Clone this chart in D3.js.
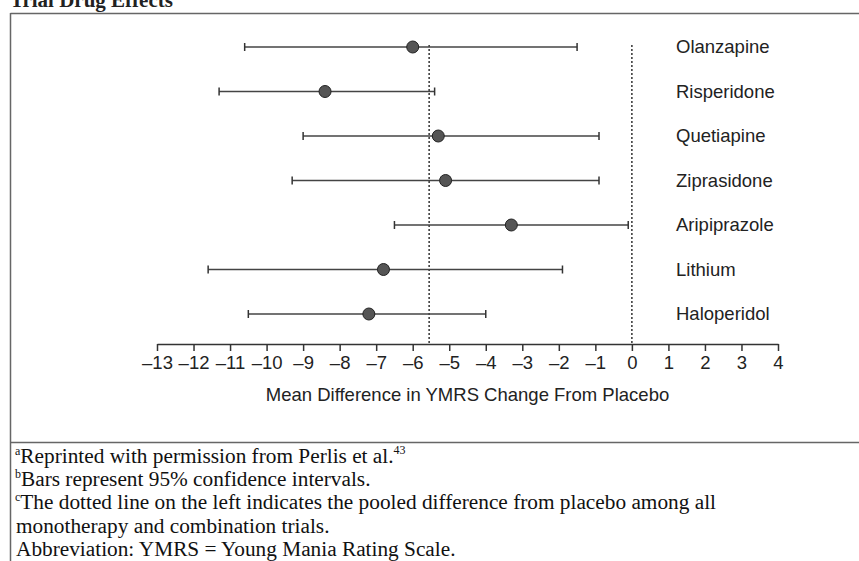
<!DOCTYPE html>
<html>
<head>
<meta charset="utf-8">
<script src="https://cdn.jsdelivr.net/npm/d3@7"></script>
<style>
  body { margin: 0; background: #fff; }
  svg { display: block; }
</style>
</head>
<body>
<div id="chart"></div>
<script>
// drugs, point estimates and 95% CI bounds
var drugs = ["Olanzapine", "Risperidone", "Quetiapine", "Ziprasidone", "Aripiprazole", "Lithium", "Haloperidol"];
var meanDiff = [-6.0, -8.4, -5.3, -5.1, -3.3, -6.8, -7.2];
var ciLow = [-10.6, -11.3, -9.0, -9.3, -6.5, -11.6, -10.5];
var ciHigh = [-1.5, -5.4, -0.9, -0.9, -0.1, -1.9, -4.0];
var pooledDiff = -5.55;
var xTicks = [-13, -12, -11, -10, -9, -8, -7, -6, -5, -4, -3, -2, -1, 0, 1, 2, 3, 4];
var footnotes = [
    ["a", "Reprinted with permission from Perlis et al.", "43"],
    ["b", "Bars represent 95% confidence intervals.", ""],
    ["c", "The dotted line on the left indicates the pooled difference from placebo among all", ""],
    ["", "monotherapy and combination trials.", ""],
    ["", "Abbreviation: YMRS = Young Mania Rating Scale.", ""]
];

var width = 859, height = 561;
var sans = "Liberation Sans, Arial, sans-serif";
var serif = "Liberation Serif, Times New Roman, serif";

var svg = d3.select("#chart").append("svg")
    .attr("width", width)
    .attr("height", height);

// title, mostly cut off at the top edge
svg.append("text")
    .attr("x", 10)
    .attr("y", 7)
    .attr("font-family", serif)
    .attr("font-weight", "bold")
    .attr("font-size", 21)
    .attr("fill", "#222")
    .text("Trial Drug Effects");

// frame
var frame = svg.append("g").attr("stroke", "#666").attr("stroke-width", 1.5).attr("fill", "none");
frame.append("line").attr("x1", 10.5).attr("x2", width).attr("y1", 13.5).attr("y2", 13.5);
frame.append("line").attr("x1", 10.5).attr("x2", 10.5).attr("y1", 13).attr("y2", height);
frame.append("line").attr("x1", 10.5).attr("x2", width).attr("y1", 442.5).attr("y2", 442.5);

var x = d3.scaleLinear().domain([-13, 4]).range([157, 778]);
var y = d3.scalePoint().domain(drugs).range([47, 314]);
var axisY = 344;

// reference lines (pooled difference and zero)
svg.append("g").selectAll("line")
    .data([pooledDiff, 0])
    .enter().append("line")
    .attr("x1", function(d) { return x(d); })
    .attr("x2", function(d) { return x(d); })
    .attr("y1", 45)
    .attr("y2", axisY)
    .attr("stroke", "#333")
    .attr("stroke-width", 1.5)
    .attr("stroke-dasharray", "2,2");

// axis
var axis = svg.append("g")
    .attr("transform", "translate(0," + axisY + ")")
    .call(d3.axisBottom(x)
        .tickValues(xTicks)
        .tickSize(7)
        .tickSizeOuter(0)
        .tickFormat(function(d) { return d < 0 ? "\u2013" + Math.abs(d) : String(d); }));

axis.select(".domain").attr("stroke", "#333").attr("stroke-width", 1.5);
axis.selectAll(".tick line").attr("stroke", "#333").attr("stroke-width", 1.5);
axis.selectAll(".tick text")
    .attr("y", 12)
    .attr("font-family", sans)
    .attr("font-size", 18.5)
    .attr("fill", "#222");

svg.append("text")
    .attr("x", (x(-13) + x(4)) / 2)
    .attr("y", 401)
    .attr("text-anchor", "middle")
    .attr("font-family", sans)
    .attr("font-size", 18.5)
    .attr("fill", "#222")
    .text("Mean Difference in YMRS Change From Placebo");

// error bars
var rows = svg.append("g").selectAll("g")
    .data(drugs)
    .enter().append("g")
    .attr("transform", function(d) { return "translate(0," + y(d) + ")"; });

rows.append("line")
    .attr("x1", function(d, i) { return x(ciLow[i]); })
    .attr("x2", function(d, i) { return x(ciHigh[i]); })
    .attr("stroke", "#444")
    .attr("stroke-width", 1.5);

rows.append("line")
    .attr("x1", function(d, i) { return x(ciLow[i]); })
    .attr("x2", function(d, i) { return x(ciLow[i]); })
    .attr("y1", -4).attr("y2", 4)
    .attr("stroke", "#333")
    .attr("stroke-width", 1.5);

rows.append("line")
    .attr("x1", function(d, i) { return x(ciHigh[i]); })
    .attr("x2", function(d, i) { return x(ciHigh[i]); })
    .attr("y1", -4).attr("y2", 4)
    .attr("stroke", "#333")
    .attr("stroke-width", 1.5);

rows.append("circle")
    .attr("cx", function(d, i) { return x(meanDiff[i]); })
    .attr("r", 6)
    .attr("fill", "#555")
    .attr("stroke", "#222")
    .attr("stroke-width", 1);

rows.append("text")
    .attr("x", 676)
    .attr("dy", "0.35em")
    .attr("font-family", sans)
    .attr("font-size", 18.5)
    .attr("fill", "#222")
    .text(function(d) { return d; });

// footnotes
var notes = svg.append("g")
    .attr("font-family", serif)
    .attr("font-size", 21.3)
    .attr("fill", "#111");

footnotes.forEach(function(f, i) {
    var t = notes.append("text")
        .attr("x", f[0] ? 15 : 16)
        .attr("y", 463 + i * 23.2);
    if (f[0]) t.append("tspan").attr("font-size", 12).attr("dy", -8).text(f[0]);
    t.append("tspan").attr("dy", f[0] ? 8 : 0).text(f[1]);
    if (f[2]) t.append("tspan").attr("font-size", 12).attr("dy", -9).text(f[2]);
});
</script>
</body>
</html>
